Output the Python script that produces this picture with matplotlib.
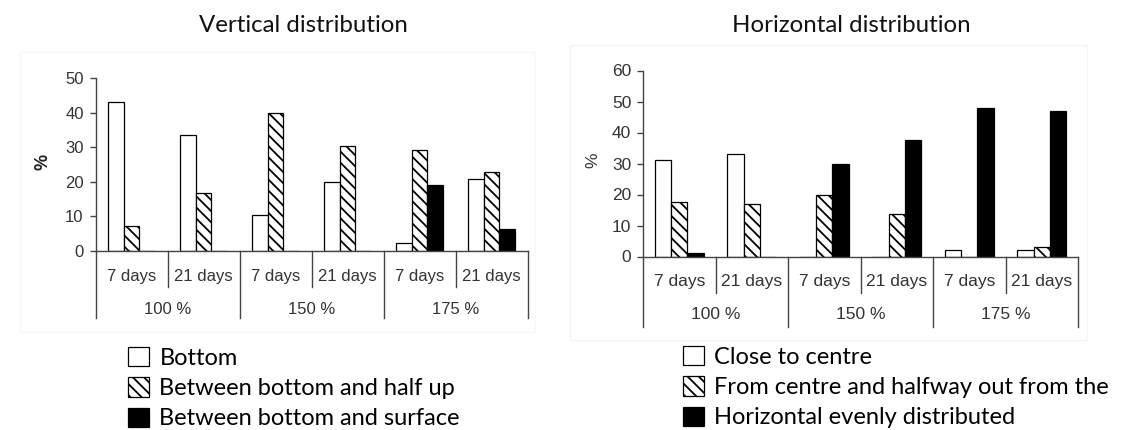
import matplotlib
matplotlib.use("Agg")
import matplotlib.pyplot as plt
from matplotlib.patches import Rectangle

# ---------------- data ----------------
day_labels = ["7 days", "21 days", "7 days", "21 days", "7 days", "21 days"]
group_labels = ["100 %", "150 %", "175 %"]

# Vertical distribution (%)
v_bottom = [43.0, 33.5, 10.5, 20.0, 2.2, 20.8]
v_half_up = [7.3, 16.7, 39.8, 30.3, 29.2, 22.7]
v_surface = [0.0, 0.0, 0.0, 0.0, 19.0, 6.4]
v_names = ["Bottom", "Between bottom and half up", "Between bottom and surface"]

# Horizontal distribution (%)
h_centre = [31.1, 33.2, 0.0, 0.0, 2.1, 2.1]
h_halfway = [17.7, 16.8, 19.8, 13.6, 0.0, 3.2]
h_even = [1.0, 0.0, 30.0, 37.5, 47.9, 46.8]
h_names = ["Close to centre", "From centre and halfway out from the",
           "Horizontal evenly distributed"]

v_ticks = [0, 10, 20, 30, 40, 50]
h_ticks = [0, 10, 20, 30, 40, 50, 60]

# ---------------- style ----------------
W, H = 1124, 430
plt.rcParams["hatch.linewidth"] = 1.3
CHART_FONT = "Liberation Sans"
TEXT_FONT = "Lato"
AX_COL = "#444444"
LAB_COL = "#333333"

fig = plt.figure(figsize=(W / 100, H / 100), dpi=100)


def px_axes(x0, x1, ytop, ybot):
    return fig.add_axes([x0 / W, 1 - ybot / H, (x1 - x0) / W, (ybot - ytop) / H])


def draw_panel(ax, series, ymax, ticks, ax_h_px, day_y, grp_y, day_len, grp_len, fs_tick, fs_lab, bw):
    n = len(day_labels)
    xs = [i + 0.5 for i in range(n)]
    styles = [dict(color="white", edgecolor="black", hatch=None),
              dict(color="white", edgecolor="black", hatch="\\\\\\"),
              dict(color="black", edgecolor="black", hatch=None)]
    offs = [-bw, 0.0, bw]
    conts = []
    for vals, st, off in zip(series, styles, offs):
        c = ax.bar([x + off for x in xs], vals, width=bw, linewidth=0.9, **st)
        conts.append(c)
    ax.set_xlim(0, n)
    ax.set_ylim(0, ymax)
    ax.set_yticks(ticks)
    ax.set_xticks([])
    for s in ["top", "right"]:
        ax.spines[s].set_visible(False)
    for s in ["left", "bottom"]:
        ax.spines[s].set_color(AX_COL)
        ax.spines[s].set_linewidth(1.0)
    ax.tick_params(axis="y", direction="out", length=4.5, width=1.0, color=AX_COL,
                   labelsize=fs_tick, labelcolor=LAB_COL, pad=4)
    for lab in ax.get_yticklabels():
        lab.set_fontfamily(CHART_FONT)
    tr = ax.get_xaxis_transform()
    # separators below the axis
    for i in range(n + 1):
        if i % 2 == 0:
            ax.plot([i, i], [0, -grp_len / ax_h_px], transform=tr, color=AX_COL,
                    lw=1.0, clip_on=False)
        else:
            ax.plot([i, i], [0, -day_len / ax_h_px], transform=tr, color=AX_COL,
                    lw=1.0, clip_on=False)
    for x, lab in zip(xs, day_labels):
        ax.text(x, -day_y / ax_h_px, lab, transform=tr, ha="center", va="center",
                fontsize=fs_lab, color=LAB_COL, family=CHART_FONT)
    for g, lab in enumerate(group_labels):
        ax.text(2 * g + 1, -grp_y / ax_h_px, lab, transform=tr, ha="center", va="center",
                fontsize=fs_lab, color=LAB_COL, family=CHART_FONT)
    return conts


# faint panel frames
fig.patches.append(Rectangle((20 / W, 1 - 332 / H), 515 / W, 280 / H, transform=fig.transFigure,
                             fill=False, edgecolor="#f8f8f8", lw=1.0))
fig.patches.append(Rectangle((570 / W, 1 - 340 / H), 517 / W, 295 / H, transform=fig.transFigure,
                             fill=False, edgecolor="#f5f5f5", lw=1.0))

# left panel
axL = px_axes(95.5, 527.5, 78, 251)
contsL = draw_panel(axL, [v_bottom, v_half_up, v_surface], 50, v_ticks, 173,
                    day_y=25, grp_y=58, day_len=36, grp_len=67, fs_tick=12, fs_lab=12, bw=0.215)
# right panel
axR = px_axes(643, 1078, 70.5, 256.5)
contsR = draw_panel(axR, [h_centre, h_halfway, h_even], 60, h_ticks, 186,
                    day_y=25, grp_y=58, day_len=36, grp_len=70, fs_tick=12.5, fs_lab=12.5, bw=0.225)

# titles
fig.text(303 / W, 1 - 25 / H, "Vertical distribution", ha="center", va="center",
         fontsize=17.3, family=TEXT_FONT, color="#111111")
fig.text(851 / W, 1 - 25 / H, "Horizontal distribution", ha="center", va="center",
         fontsize=17.3, family=TEXT_FONT, color="#111111")

# y labels
fig.text(43 / W, 1 - 162 / H, "%", rotation=90, ha="center", va="center",
         fontsize=13, fontweight="bold", family=CHART_FONT, color="#222222")
fig.text(593 / W, 1 - 160 / H, "%", rotation=90, ha="center", va="center",
         fontsize=12.5, family=CHART_FONT, color=LAB_COL)

# legends
leg_kw = dict(frameon=False, loc="upper left", prop={"family": TEXT_FONT, "size": 17},
              handlelength=0.88, handleheight=0.88, handletextpad=0.45, labelspacing=0.36,
              borderpad=0, borderaxespad=0)
fig.legend(contsL, v_names, bbox_to_anchor=(128 / W, 1 - 347 / H), **leg_kw)
fig.legend(contsR, h_names, bbox_to_anchor=(683 / W, 1 - 346 / H), **leg_kw)

fig.savefig("out.png", dpi=100, facecolor="white")
